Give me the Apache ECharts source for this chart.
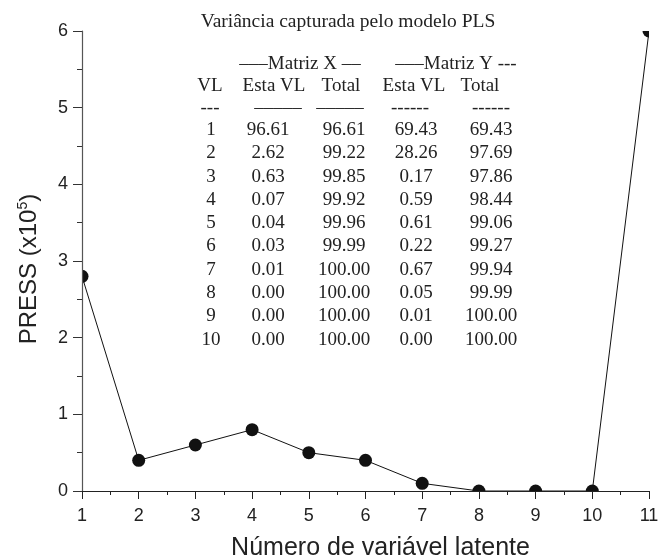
<!DOCTYPE html>
<html>
<head>
<meta charset="utf-8">
<script src="https://cdn.jsdelivr.net/npm/echarts@6/dist/echarts.min.js"></script>
<style>
html,body{margin:0;padding:0;background:#fff;}
#chart{width:659px;height:560px;}
</style>
</head>
<body>
<div id="chart"></div>
<script>
// PRESS por número de variável latente
var latentes = [1, 2, 3, 4, 5, 6, 7, 8, 9, 10, 11];
var press = [2.8, 0.4, 0.6, 0.8, 0.5, 0.4, 0.1, 0, 0, 0, 6];

// tabela da variância capturada
var vl = [1, 2, 3, 4, 5, 6, 7, 8, 9, 10];
var xEsta = [96.61, 2.62, 0.63, 0.07, 0.04, 0.03, 0.01, 0.00, 0.00, 0.00];
var xTotal = [96.61, 99.22, 99.85, 99.92, 99.96, 99.99, 100.00, 100.00, 100.00, 100.00];
var yEsta = [69.43, 28.26, 0.17, 0.59, 0.61, 0.22, 0.67, 0.05, 0.01, 0.00];
var yTotal = [69.43, 97.69, 97.86, 98.44, 99.06, 99.27, 99.94, 99.99, 100.00, 100.00];

var serif = '19px "Liberation Serif", "Times New Roman", serif';
var colX = [211, 268, 344, 416, 491];

function txt(s, x, y, font) {
	return {
		type: 'text', x: x, y: y, z: 20, zlevel: 1,
		style: { text: s, font: font || serif, fill: '#222', align: 'center', verticalAlign: 'middle' }
	};
}

var tabela = [];
tabela.push(txt('Variância capturada pelo modelo PLS', 348, 22, '19.5px "Liberation Serif", serif'));
tabela.push(txt('–––Matriz X ––', 300, 64));
tabela.push(txt('–––Matriz Y ---', 456, 64));
var cab = ['VL', 'Esta VL', 'Total', 'Esta VL', 'Total'];
var cabX = [210, 274, 341, 414, 480];
var tracos = ['---', '–––––', '–––––', '------', '------'];
var tracosX = [210, 278, 340, 410, 491];
for (var c = 0; c < 5; c++) {
	tabela.push(txt(cab[c], cabX[c], 86));
	tabela.push(txt(tracos[c], tracosX[c], 108));
}
for (var i = 0; i < vl.length; i++) {
	var y = 130 + i * 23.3;
	var linha = [String(vl[i]), xEsta[i].toFixed(2), xTotal[i].toFixed(2), yEsta[i].toFixed(2), yTotal[i].toFixed(2)];
	for (var k = 0; k < 5; k++) tabela.push(txt(linha[k], colX[k], y));
}

// máscaras brancas para recortar os marcadores fora da área do gráfico
var L = 82, R = 649, T = 31, B = 491;
function mascara(x, y, w, h) {
	return { type: 'rect', zlevel: 1, z: 0, shape: { x: x, y: y, width: w, height: h }, style: { fill: '#fff' } };
}
var mascaras = [
	mascara(0, 0, L, 560),
	mascara(0, B, 659, 560 - B),
	mascara(R, 0, 659 - R, 560),
	mascara(0, 0, 659, T)
];

var sans = '"Liberation Sans", Arial, sans-serif';
var myChart = echarts.init(document.getElementById('chart'));
myChart.setOption({
	animation: false,
	backgroundColor: '#fff',
	grid: { left: L, right: 659 - R, top: T, bottom: 560 - B, outerBoundsMode: 'none', containLabel: false },
	graphic: mascaras.concat(tabela),
	xAxis: {
		type: 'value', min: 1, max: 11, interval: 1, zlevel: 1, z: 10,
		name: 'Número de variável latente',
		nameLocation: 'middle', nameGap: 45,
		nameTextStyle: { fontFamily: sans, fontSize: 25, color: '#222', padding: [0, 0, 0, 30] },
		axisLine: { show: true, onZero: false, lineStyle: { color: '#222', width: 1.2 } },
		axisTick: { show: true, inside: false, length: 8, lineStyle: { color: '#222' } },
		minorTick: { show: true, splitNumber: 2, length: 4, lineStyle: { color: '#222' } },
		axisLabel: { fontFamily: sans, fontSize: 18, color: '#222', margin: 16 },
		splitLine: { show: false }
	},
	yAxis: {
		type: 'value', min: 0, max: 6, interval: 1, zlevel: 1, z: 10,
		name: 'PRESS (x10{sup|5})',
		nameLocation: 'middle', nameGap: 40, nameRotate: 90,
		nameTextStyle: {
			fontFamily: sans, fontSize: 24, color: '#222', padding: [0, 0, 0, -16],
			rich: { sup: { fontFamily: sans, fontSize: 14, color: '#222', verticalAlign: 'top', padding: [0, 0, 12, 0] } }
		},
		axisLine: { show: true, onZero: false, lineStyle: { color: '#555', width: 1.2 } },
		axisTick: { show: true, inside: false, length: 9, lineStyle: { color: '#333' } },
		minorTick: { show: true, splitNumber: 2, length: 5, lineStyle: { color: '#333' } },
		axisLabel: { fontFamily: sans, fontSize: 18, color: '#222', margin: 14 },
		splitLine: { show: false }
	},
	series: [{
		type: 'line', z: 1, clip: false,
		data: latentes.map(function (v, j) { return [v, press[j]]; }),
		symbol: 'circle', symbolSize: 13,
		itemStyle: { color: '#111' },
		lineStyle: { color: '#111', width: 1 }
	}]
});
</script>
</body>
</html>
